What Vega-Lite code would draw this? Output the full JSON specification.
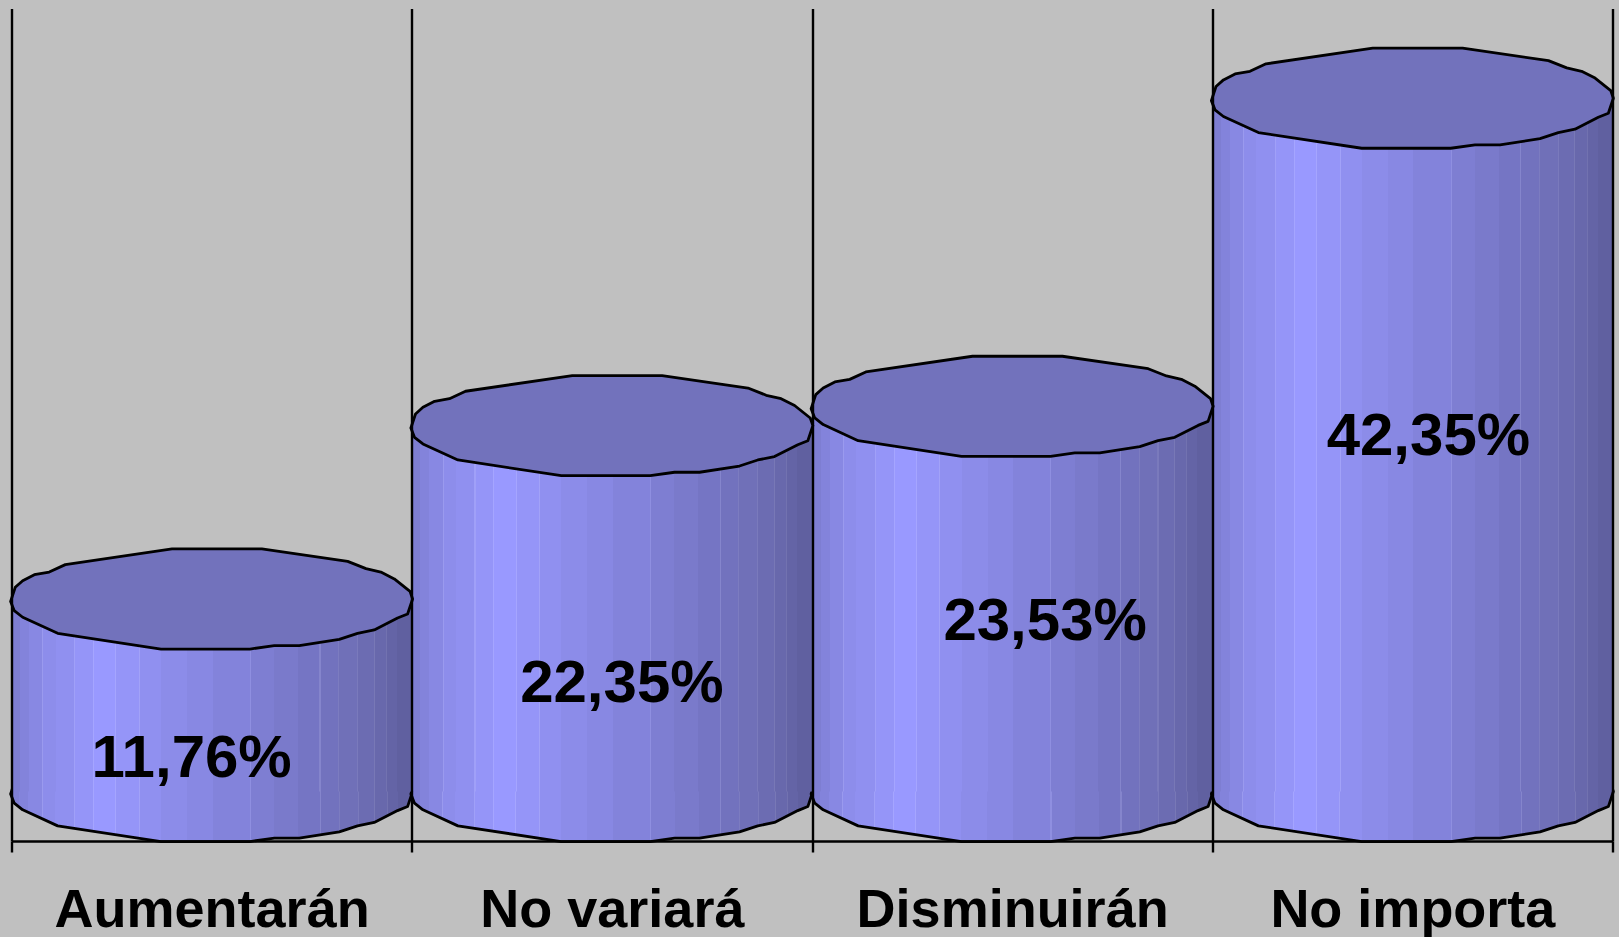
{
"$schema":"https://vega.github.io/schema/vega-lite/v6.json",
"autosize":{"type":"none"},
"padding":{"left":11.5,"right":6.5,"top":8.5,"bottom":96},
"width":1601,
"height":832.5,
"background":"#C0C0C0",
"view":{"stroke":null},
"data":{"values":[
{"category":"Aumentarán","value":11.76,"label":"11,76%"},
{"category":"No variará","value":22.35,"label":"22,35%"},
{"category":"Disminuirán","value":23.53,"label":"23,53%"},
{"category":"No importa","value":42.35,"label":"42,35%"}
]},
"encoding":{
"x":{"field":"category","type":"nominal","sort":null,"title":null,"scale":{"type":"band","paddingInner":0,"paddingOuter":0},
"axis":{"zindex":1,"grid":true,"gridColor":"#000000","gridWidth":2.4,"gridOpacity":1,"tickBand":"extent","ticks":true,"tickSize":11,"tickWidth":2.4,"tickColor":"#000000","domainColor":"#000000","domainWidth":2.6,"labelAngle":0,"labelFont":"Liberation Sans","labelFontWeight":"bold","labelFontSize":54,"labelColor":"#000000","labelBaseline":"alphabetic","labelPadding":74,"labelLimit":500,"labelOverlap":false,"labelFlush":false}}
},
"layer":[
{"mark":{"type":"point","shape":"M-1,0.012L-0.977,-0.058L-0.94,-0.091L-0.882,-0.121L-0.808,-0.134L-0.728,-0.171L-0.197,-0.249L0.25,-0.249L0.677,-0.187L0.768,-0.151L0.842,-0.134L0.909,-0.1L0.987,-0.038L1,0L0.975,0.075L0.925,0.095L0.809,0.154L0.726,0.171L0.635,0.201L0.436,0.232L0.312,0.232L0.191,0.249L-0.252,0.249L-0.766,0.171L-0.94,0.091L-0.982,0.058Z","size":161604,"filled":true,"opacity":1,"stroke":"#000000","strokeWidth":2.8,"strokeJoin":"round",
"fill":{"gradient":"linear","x1":0,"y1":0,"x2":1,"y2":0,"stops":[
{"offset":0,"color":"#7E7ED2"},{"offset":0.0216,"color":"#7E7ED2"},{"offset":0.0216,"color":"#8383DB"},{"offset":0.044,"color":"#8383DB"},{"offset":0.044,"color":"#8888E3"},{"offset":0.0771,"color":"#8888E3"},{"offset":0.0771,"color":"#9A9AEE"},{"offset":0.0797,"color":"#9A9AEE"},{"offset":0.0797,"color":"#8D8DEB"},{"offset":0.1103,"color":"#8D8DEB"},{"offset":0.1103,"color":"#9090F0"},{"offset":0.1567,"color":"#9090F0"},{"offset":0.1567,"color":"#A0A0F8"},{"offset":0.1593,"color":"#A0A0F8"},{"offset":0.1593,"color":"#9595F8"},{"offset":0.204,"color":"#9595F8"},{"offset":0.204,"color":"#A5A5FF"},{"offset":0.2066,"color":"#A5A5FF"},{"offset":0.2066,"color":"#9999FF"},{"offset":0.2595,"color":"#9999FF"},{"offset":0.2595,"color":"#A5A5FF"},{"offset":0.2621,"color":"#A5A5FF"},{"offset":0.2621,"color":"#9595F8"},{"offset":0.3184,"color":"#9595F8"},{"offset":0.3184,"color":"#A2A2F8"},{"offset":0.321,"color":"#A2A2F8"},{"offset":0.321,"color":"#9090F0"},{"offset":0.374,"color":"#9090F0"},{"offset":0.374,"color":"#8C8CE9"},{"offset":0.4386,"color":"#8C8CE9"},{"offset":0.4386,"color":"#8888E3"},{"offset":0.5025,"color":"#8888E3"},{"offset":0.5025,"color":"#8383DB"},{"offset":0.5954,"color":"#8383DB"},{"offset":0.5954,"color":"#8F8FE0"},{"offset":0.598,"color":"#8F8FE0"},{"offset":0.598,"color":"#7E7ED2"},{"offset":0.6559,"color":"#7E7ED2"},{"offset":0.6559,"color":"#7A7ACB"},{"offset":0.7156,"color":"#7A7ACB"},{"offset":0.7156,"color":"#7575C4"},{"offset":0.7695,"color":"#7575C4"},{"offset":0.7695,"color":"#8585CC"},{"offset":0.7721,"color":"#8585CC"},{"offset":0.7721,"color":"#7272BE"},{"offset":0.8159,"color":"#7272BE"},{"offset":0.8159,"color":"#7C7CC0"},{"offset":0.8185,"color":"#7C7CC0"},{"offset":0.8185,"color":"#7070B8"},{"offset":0.8632,"color":"#7070B8"},{"offset":0.8632,"color":"#7A7ABC"},{"offset":0.8658,"color":"#7A7ABC"},{"offset":0.8658,"color":"#6C6CB2"},{"offset":0.9046,"color":"#6C6CB2"},{"offset":0.9046,"color":"#7878B6"},{"offset":0.9072,"color":"#7878B6"},{"offset":0.9072,"color":"#6868AC"},{"offset":0.9353,"color":"#6868AC"},{"offset":0.9353,"color":"#7272B0"},{"offset":0.9379,"color":"#7272B0"},{"offset":0.9379,"color":"#6464A6"},{"offset":0.9627,"color":"#6464A6"},{"offset":0.9627,"color":"#6060A0"},{"offset":1,"color":"#6060A0"}]}},
"encoding":{"y":{"datum":0,"type":"quantitative","axis":null,"scale":{"domain":[-3.024,47.83],"nice":false,"zero":false}}}},
{"mark":{"type":"rect","strokeWidth":0,
"fill":{"gradient":"linear","x1":0,"y1":0,"x2":1,"y2":0,"stops":[
{"offset":0,"color":"#7E7ED2"},{"offset":0.0216,"color":"#7E7ED2"},{"offset":0.0216,"color":"#8383DB"},{"offset":0.044,"color":"#8383DB"},{"offset":0.044,"color":"#8888E3"},{"offset":0.0771,"color":"#8888E3"},{"offset":0.0771,"color":"#9A9AEE"},{"offset":0.0797,"color":"#9A9AEE"},{"offset":0.0797,"color":"#8D8DEB"},{"offset":0.1103,"color":"#8D8DEB"},{"offset":0.1103,"color":"#9090F0"},{"offset":0.1567,"color":"#9090F0"},{"offset":0.1567,"color":"#A0A0F8"},{"offset":0.1593,"color":"#A0A0F8"},{"offset":0.1593,"color":"#9595F8"},{"offset":0.204,"color":"#9595F8"},{"offset":0.204,"color":"#A5A5FF"},{"offset":0.2066,"color":"#A5A5FF"},{"offset":0.2066,"color":"#9999FF"},{"offset":0.2595,"color":"#9999FF"},{"offset":0.2595,"color":"#A5A5FF"},{"offset":0.2621,"color":"#A5A5FF"},{"offset":0.2621,"color":"#9595F8"},{"offset":0.3184,"color":"#9595F8"},{"offset":0.3184,"color":"#A2A2F8"},{"offset":0.321,"color":"#A2A2F8"},{"offset":0.321,"color":"#9090F0"},{"offset":0.374,"color":"#9090F0"},{"offset":0.374,"color":"#8C8CE9"},{"offset":0.4386,"color":"#8C8CE9"},{"offset":0.4386,"color":"#8888E3"},{"offset":0.5025,"color":"#8888E3"},{"offset":0.5025,"color":"#8383DB"},{"offset":0.5954,"color":"#8383DB"},{"offset":0.5954,"color":"#8F8FE0"},{"offset":0.598,"color":"#8F8FE0"},{"offset":0.598,"color":"#7E7ED2"},{"offset":0.6559,"color":"#7E7ED2"},{"offset":0.6559,"color":"#7A7ACB"},{"offset":0.7156,"color":"#7A7ACB"},{"offset":0.7156,"color":"#7575C4"},{"offset":0.7695,"color":"#7575C4"},{"offset":0.7695,"color":"#8585CC"},{"offset":0.7721,"color":"#8585CC"},{"offset":0.7721,"color":"#7272BE"},{"offset":0.8159,"color":"#7272BE"},{"offset":0.8159,"color":"#7C7CC0"},{"offset":0.8185,"color":"#7C7CC0"},{"offset":0.8185,"color":"#7070B8"},{"offset":0.8632,"color":"#7070B8"},{"offset":0.8632,"color":"#7A7ABC"},{"offset":0.8658,"color":"#7A7ABC"},{"offset":0.8658,"color":"#6C6CB2"},{"offset":0.9046,"color":"#6C6CB2"},{"offset":0.9046,"color":"#7878B6"},{"offset":0.9072,"color":"#7878B6"},{"offset":0.9072,"color":"#6868AC"},{"offset":0.9353,"color":"#6868AC"},{"offset":0.9353,"color":"#7272B0"},{"offset":0.9379,"color":"#7272B0"},{"offset":0.9379,"color":"#6464A6"},{"offset":0.9627,"color":"#6464A6"},{"offset":0.9627,"color":"#6060A0"},{"offset":1,"color":"#6060A0"}]}},
"encoding":{"y":{"field":"value","type":"quantitative","axis":null},"y2":{"datum":0}}},
{"mark":{"type":"point","shape":"M-1,0.012L-0.977,-0.058L-0.94,-0.091L-0.882,-0.121L-0.808,-0.134L-0.728,-0.171L-0.197,-0.249L0.25,-0.249L0.677,-0.187L0.768,-0.151L0.842,-0.134L0.909,-0.1L0.987,-0.038L1,0L0.975,0.075L0.925,0.095L0.809,0.154L0.726,0.171L0.635,0.201L0.436,0.232L0.312,0.232L0.191,0.249L-0.252,0.249L-0.766,0.171L-0.94,0.091L-0.982,0.058Z","size":161604,"filled":true,"opacity":1,"fill":"#7272BC","stroke":"#000000","strokeWidth":2.8,"strokeJoin":"round"},
"encoding":{"y":{"field":"value","type":"quantitative","axis":null}}},
{"transform":[{"filter":"datum.category==='Aumentarán'"}],"mark":{"type":"text","font":"Liberation Sans","fontWeight":"bold","fontSize":60,"color":"#000000","baseline":"alphabetic","align":"center","dx":-20,"dy":178},
"encoding":{"y":{"field":"value","type":"quantitative","axis":null},"text":{"field":"label"}}},
{"transform":[{"filter":"datum.category==='No variará'"}],"mark":{"type":"text","font":"Liberation Sans","fontWeight":"bold","fontSize":60,"color":"#000000","baseline":"alphabetic","align":"center","dx":10,"dy":276},
"encoding":{"y":{"field":"value","type":"quantitative","axis":null},"text":{"field":"label"}}},
{"transform":[{"filter":"datum.category==='Disminuirán'"}],"mark":{"type":"text","font":"Liberation Sans","fontWeight":"bold","fontSize":60,"color":"#000000","baseline":"alphabetic","align":"center","dx":33,"dy":234},
"encoding":{"y":{"field":"value","type":"quantitative","axis":null},"text":{"field":"label"}}},
{"transform":[{"filter":"datum.category==='No importa'"}],"mark":{"type":"text","font":"Liberation Sans","fontWeight":"bold","fontSize":60,"color":"#000000","baseline":"alphabetic","align":"center","dx":16,"dy":357},
"encoding":{"y":{"field":"value","type":"quantitative","axis":null},"text":{"field":"label"}}}
]
}
